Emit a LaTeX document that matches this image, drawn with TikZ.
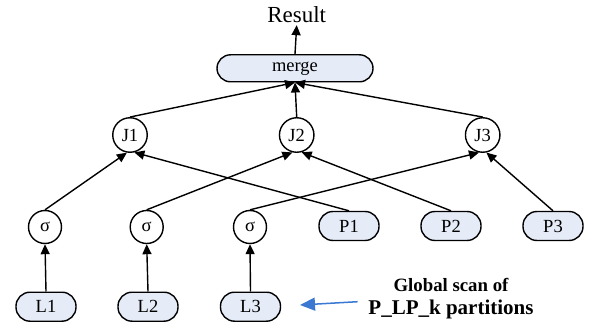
\documentclass[tikz,border=0pt]{standalone}
\usepackage{fontspec}
\setmainfont{Liberation Serif}
\usetikzlibrary{arrows.meta}
\definecolor{boxfill}{RGB}{230,236,247}
\definecolor{scanblue}{RGB}{58,120,210}
\tikzset{
  lbl/.style={font=\rmfamily\fontsize{18.5}{20}\selectfont},
  pill/.style={lbl, draw, line width=1.4pt, fill=boxfill, rounded corners=14pt,
    minimum width=60pt, minimum height=29pt, inner sep=0pt},
  opcirc/.style={lbl, draw, line width=1.4pt, circle, minimum size=33pt, inner sep=0pt},
  joincirc/.style={lbl, draw, line width=1.4pt, circle, minimum size=34.5pt, inner sep=0pt},
  link/.style={line width=1.4pt, -{Triangle[length=10pt,width=9pt]}},
}
\begin{document}
\begin{tikzpicture}[x=1pt,y=1pt]
\useasboundingbox (0,0) rectangle (589,327);

% result and merge
\node[font=\rmfamily\fontsize{23}{26}\selectfont, anchor=base, inner sep=2pt] (res) at (296.7,304.3) {Result};
\node[pill, minimum width=156pt, minimum height=27pt, rounded corners=13.5pt] (merge) at (295,258.7) {merge};

% joins
\node[joincirc] (j1) at (130,192) {J1};
\node[joincirc] (j2) at (296.7,192) {J2};
\node[joincirc] (j3) at (482.7,192) {J3};

% selections
\node[opcirc] (s1) at (45,100) {σ};
\node[opcirc] (s2) at (146.7,100) {σ};
\node[opcirc] (s3) at (250,100) {σ};

% partitions
\node[pill] (p1) at (349,101) {P1};
\node[pill] (p2) at (451,101) {P2};
\node[pill] (p3) at (553,101) {P3};

% local inputs
\node[pill] (l1) at (46,20.3) {L1};
\node[pill] (l2) at (148,20.3) {L2};
\node[pill] (l3) at (250.5,20.3) {L3};

% connectors
\draw[link] (merge.north) -- (res.south);
\draw[link] (j1.north) -- (merge.south);
\draw[link] (j2.north) -- (merge.south);
\draw[link] (j3.north) -- (merge.south);

\draw[link] (s1.north) -- (j1.-100);
\draw[link] (p1.north) -- (j1.-76);
\draw[link] (s2.north) -- (j2.-104);
\draw[link] (p2.north) -- (j2.-74);
\draw[link] (s3.north) -- (j3.-102);
\draw[link] (p3.north) -- (j3.-78);

\draw[link] (l1.north) -- (s1.south);
\draw[link] (l2.north) -- (s2.south);
\draw[link] (l3.north) -- (s3.south);

% scan annotation
\node[font=\rmfamily\bfseries\fontsize{18.8}{20}\selectfont, inner sep=0pt] (g1) at (451,42) {Global scan of};
\node[font=\rmfamily\bfseries\fontsize{21}{22}\selectfont, inner sep=0pt] (g2) at (451,18) {P\_LP\_k partitions};
\coordinate (scanfrom) at (357.7,25.3);
\coordinate (scanto) at (300,22);
\draw[line width=1.5pt, scanblue, -{Triangle[length=15pt,width=13pt]}] (scanfrom) -- (scanto);
\end{tikzpicture}
\end{document}
